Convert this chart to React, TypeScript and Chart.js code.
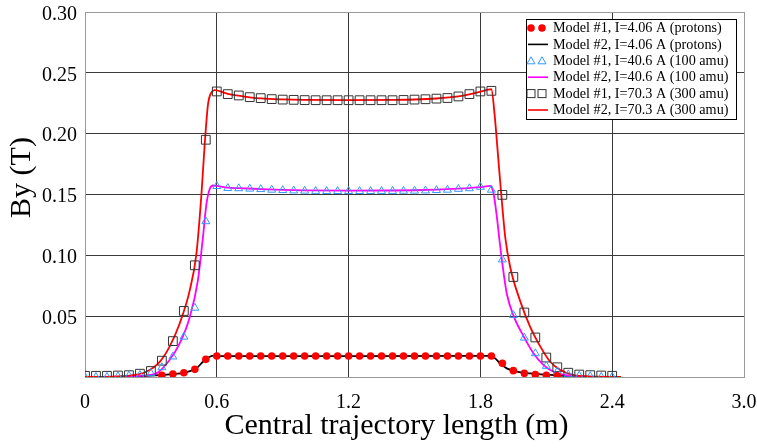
import React, { useEffect, useRef } from 'react';
import { Chart, registerables } from 'chart.js';

Chart.register(...registerables);

// ---------- data ----------
const markerX = [0, 0.05, 0.1, 0.15, 0.2, 0.25, 0.3, 0.35, 0.4, 0.45, 0.5, 0.55, 0.6, 0.65, 0.7, 0.75, 0.8, 0.85, 0.9, 0.95, 1.0, 1.05, 1.1, 1.15, 1.2, 1.25, 1.3, 1.35, 1.4, 1.45, 1.5, 1.55, 1.6, 1.65, 1.7, 1.75, 1.8, 1.85, 1.9, 1.95, 2.0, 2.05, 2.1, 2.15, 2.2, 2.25, 2.3, 2.35, 2.4];

const protonsModel1: (number | null)[] = [null, null, null, null, null, null, null, 0.0014, 0.0025, 0.0035, 0.0063, 0.0145, 0.0172, 0.0172, 0.0172, 0.0172, 0.0172, 0.0172, 0.0172, 0.0172, 0.0172, 0.0172, 0.0172, 0.0172, 0.0172, 0.0172, 0.0172, 0.0172, 0.0172, 0.0172, 0.0172, 0.0172, 0.0172, 0.0172, 0.0172, 0.0172, 0.0172, 0.0172, 0.0112, 0.0052, 0.003, 0.002, 0.0015, 0.001, null, null, null, null, null];

const amu100Model1 = [0, 0, 0, 0.0005, 0.001, 0.0015, 0.003, 0.0079, 0.0167, 0.033, 0.0568, 0.1279, 0.1568, 0.1552, 0.155, 0.1547, 0.1543, 0.1538, 0.1535, 0.1532, 0.153, 0.1528, 0.1527, 0.1527, 0.1527, 0.1527, 0.1527, 0.1528, 0.1528, 0.1529, 0.153, 0.1532, 0.1535, 0.1538, 0.1545, 0.155, 0.1562, 0.1538, 0.0965, 0.0508, 0.0322, 0.0194, 0.009, 0.0044, 0.002, 0.001, 0.0005, 0, 0];

const amu300Model1 = [0.001, 0.001, 0.001, 0.0012, 0.0015, 0.0027, 0.0049, 0.0134, 0.0295, 0.0543, 0.0918, 0.195, 0.2347, 0.2325, 0.2314, 0.23, 0.2292, 0.2284, 0.228, 0.2278, 0.2276, 0.2275, 0.2275, 0.2275, 0.2275, 0.2275, 0.2275, 0.2275, 0.2275, 0.2277, 0.228, 0.2283, 0.2288, 0.2293, 0.2306, 0.2325, 0.2347, 0.2352, 0.1497, 0.0822, 0.053, 0.0325, 0.016, 0.008, 0.0035, 0.002, 0.0015, 0.0012, 0.001];

const protonsModel2X = [0, 0.2, 0.28, 0.385, 0.46, 0.507, 0.537, 0.568, 0.59, 0.62, 1.2, 1.82, 1.845, 1.867, 1.89, 1.92, 1.966, 2.027, 2.1, 2.18, 2.26, 2.3];
const protonsModel2Y = [0, 0, 0.001, 0.0022, 0.0038, 0.0071, 0.0125, 0.0166, 0.0175, 0.0172, 0.0172, 0.0173, 0.0175, 0.0153, 0.0112, 0.0071, 0.0044, 0.003, 0.0019, 0.001, 0, 0];

const amu100Model2X = [0, 0.2, 0.27, 0.325, 0.385, 0.431, 0.4765, 0.514, 0.537, 0.553, 0.568, 0.583, 0.6, 0.65, 0.7, 0.8, 0.9, 1.0, 1.2, 1.4, 1.5, 1.6, 1.7, 1.75, 1.8, 1.845, 1.86, 1.875, 1.887, 1.898, 1.92, 1.953, 1.998, 2.042, 2.088, 2.133, 2.2, 2.3];
const amu100Model2Y = [0, 0.0005, 0.0012, 0.003, 0.014, 0.0276, 0.049, 0.0795, 0.115, 0.1424, 0.1547, 0.1574, 0.157, 0.1556, 0.1552, 0.1545, 0.1538, 0.1534, 0.1532, 0.1533, 0.1535, 0.154, 0.1548, 0.1553, 0.156, 0.1571, 0.1506, 0.1314, 0.1123, 0.0959, 0.0686, 0.0494, 0.033, 0.0194, 0.0098, 0.0043, 0.0012, 0];

const amu300Model2X = [0, 0.15, 0.22, 0.279, 0.34, 0.385, 0.431, 0.4765, 0.507, 0.53, 0.545, 0.56, 0.5755, 0.59, 0.6, 0.65, 0.7, 0.75, 0.8, 0.9, 1.0, 1.2, 1.4, 1.5, 1.6, 1.7, 1.75, 1.8, 1.835, 1.85, 1.865, 1.882, 1.895, 1.913, 1.936, 1.98, 2.027, 2.073, 2.118, 2.164, 2.225, 2.3, 2.44];
const amu300Model2Y = [0, 0.0005, 0.0015, 0.0043, 0.0125, 0.025, 0.044, 0.071, 0.101, 0.15, 0.1915, 0.224, 0.234, 0.2358, 0.2355, 0.2328, 0.2312, 0.2299, 0.229, 0.2282, 0.2278, 0.2276, 0.2278, 0.2281, 0.2289, 0.2306, 0.2323, 0.2345, 0.2362, 0.2365, 0.215, 0.178, 0.15, 0.115, 0.09, 0.063, 0.041, 0.025, 0.0125, 0.0057, 0.0015, 0.0005, 0];

const xTickValues = [0, 0.6, 1.2, 1.8, 2.4, 3.0];
const yTickValues = [0, 0.05, 0.1, 0.15, 0.2, 0.25, 0.3];

const legendLabels = [
  'Model #1, I=4.06 A (protons)',
  'Model #2, I=4.06 A (protons)',
  'Model #1, I=40.6 A (100 amu)',
  'Model #2, I=40.6 A (100 amu)',
  'Model #1, I=70.3 A (300 amu)',
  'Model #2, I=70.3 A (300 amu)',
];

const xTitle = 'Central trajectory length (m)';
const yTitle = 'By (T)';

// ---------- styles ----------
const RED = '#ff0000';
const MAGENTA = '#ff00ff';
const BLUE = '#3399ff';
const SQUARE = '#333333';
const FONT = '"Liberation Serif", "Times New Roman", serif';

const toPoints = (xs: number[], ys: (number | null)[]) =>
  xs.map((x, i) => ({ x, y: ys[i] })).filter((p) => p.y !== null && p.y !== undefined) as { x: number; y: number }[];

function drawLegendMarker(ctx: CanvasRenderingContext2D, kind: string, x: number, y: number) {
  ctx.save();
  if (kind === 'circle') {
    ctx.fillStyle = RED;
    ctx.beginPath();
    ctx.arc(x, y, 3.8, 0, Math.PI * 2);
    ctx.fill();
  } else if (kind === 'triangle') {
    ctx.strokeStyle = BLUE;
    ctx.lineWidth = 1;
    ctx.beginPath();
    ctx.moveTo(x, y - 4);
    ctx.lineTo(x + 4, y + 3);
    ctx.lineTo(x - 4, y + 3);
    ctx.closePath();
    ctx.stroke();
  } else if (kind === 'rect') {
    ctx.strokeStyle = SQUARE;
    ctx.lineWidth = 1;
    ctx.strokeRect(x - 4, y - 4, 8, 8);
  }
  ctx.restore();
}

const legendPlugin = {
  id: 'customLegend',
  afterDraw(chart: any) {
    const ctx: CanvasRenderingContext2D = chart.ctx;
    // axis titles
    ctx.save();
    ctx.fillStyle = '#000000';
    ctx.font = `30px ${FONT}`;
    ctx.textAlign = 'center';
    ctx.textBaseline = 'middle';
    ctx.fillText(xTitle, 396.5, 426.5);
    ctx.translate(22, 177.5);
    ctx.rotate(-Math.PI / 2);
    ctx.fillText(yTitle, 0, 0);
    ctx.restore();

    // legend
    const bx = 526.5, by = 19.5, bw = 210, bh = 100;
    ctx.save();
    ctx.fillStyle = '#ffffff';
    ctx.fillRect(bx, by, bw, bh);
    ctx.strokeStyle = '#000000';
    ctx.lineWidth = 1;
    ctx.strokeRect(bx, by, bw, bh);
    const kinds = [
      { m: 'circle' }, { l: '#000000' },
      { m: 'triangle' }, { l: MAGENTA },
      { m: 'rect' }, { l: RED },
    ] as any[];
    ctx.font = `14.2px ${FONT}`;
    ctx.textBaseline = 'middle';
    ctx.textAlign = 'left';
    legendLabels.forEach((label, i) => {
      const cy = 28 + i * 16.4;
      const k = kinds[i];
      if (k.m) {
        drawLegendMarker(ctx, k.m, 531, cy);
        drawLegendMarker(ctx, k.m, 542, cy);
      } else {
        ctx.strokeStyle = k.l;
        ctx.lineWidth = 1.6;
        ctx.beginPath();
        ctx.moveTo(528, cy);
        ctx.lineTo(548, cy);
        ctx.stroke();
      }
      ctx.fillStyle = '#000000';
      ctx.fillText(label, 553, cy + 0.5);
    });
    ctx.restore();
  },
};

const noPad = (scale: any) => {
  scale.paddingTop = 0;
  scale.paddingBottom = 0;
  scale.paddingLeft = 0;
  scale.paddingRight = 0;
};

export default function App() {
  const ref = useRef<HTMLCanvasElement>(null);
  useEffect(() => {
    if (!ref.current) return;
    const edgeColor = '#999999';
    const gridColor = '#3a3a3a';
    const chart = new Chart(ref.current, {
      type: 'scatter',
      data: {
        datasets: [
          {
            label: legendLabels[0],
            data: toPoints(markerX, protonsModel1),
            showLine: false,
            pointStyle: 'circle',
            pointRadius: 3.8,
            pointBackgroundColor: RED,
            pointBorderColor: RED,
            pointBorderWidth: 0,
            order: 0,
          },
          {
            label: legendLabels[1],
            data: toPoints(protonsModel2X, protonsModel2Y),
            showLine: true,
            borderColor: '#000000',
            borderWidth: 1.8,
            pointRadius: 0,
            cubicInterpolationMode: 'monotone',
            order: 5,
          },
          {
            label: legendLabels[2],
            data: toPoints(markerX, amu100Model1),
            showLine: false,
            pointStyle: 'triangle',
            pointRadius: 4.6,
            pointBackgroundColor: 'rgba(0,0,0,0)',
            pointBorderColor: BLUE,
            pointBorderWidth: 1,
            order: 1,
          },
          {
            label: legendLabels[3],
            data: toPoints(amu100Model2X, amu100Model2Y),
            showLine: true,
            borderColor: MAGENTA,
            borderWidth: 1.8,
            pointRadius: 0,
            cubicInterpolationMode: 'monotone',
            order: 4,
          },
          {
            label: legendLabels[4],
            data: toPoints(markerX, amu300Model1),
            showLine: false,
            pointStyle: 'rect',
            pointRadius: 6.2,
            pointBackgroundColor: 'rgba(0,0,0,0)',
            pointBorderColor: SQUARE,
            pointBorderWidth: 1,
            order: 2,
          },
          {
            label: legendLabels[5],
            data: toPoints(amu300Model2X, amu300Model2Y),
            showLine: true,
            borderColor: RED,
            borderWidth: 1.8,
            pointRadius: 0,
            cubicInterpolationMode: 'monotone',
            order: 3,
          },
        ],
      },
      options: {
        responsive: false,
        animation: false,
        events: [],
        layout: { padding: { left: 0, top: 12, right: 13, bottom: 3 } },
        plugins: {
          legend: { display: false },
          tooltip: { enabled: false },
        },
        scales: {
          x: {
            type: 'linear',
            min: 0,
            max: 3,
            afterBuildTicks: (scale: any) => {
              scale.ticks = xTickValues.map((v) => ({ value: v }));
            },
            afterFit: (scale: any) => {
              scale.height = 68;
              noPad(scale);
            },
            grid: {
              drawTicks: false,
              color: (c: any) => (c.tick && (c.tick.value === 0 || c.tick.value === 3) ? edgeColor : gridColor),
              lineWidth: 1,
            },
            border: { display: true, color: edgeColor },
            ticks: {
              padding: 14,
              maxRotation: 0,
              autoSkip: false,
              color: '#000000',
              font: { family: FONT, size: 20, lineHeight: 1.2 },
              callback: (v: any) => (Number(v) === 0 ? '0' : Number(v).toFixed(1)),
            },
            title: { display: false },
          },
          y: {
            type: 'linear',
            min: 0,
            max: 0.3,
            afterBuildTicks: (scale: any) => {
              scale.ticks = yTickValues.map((v) => ({ value: v }));
            },
            afterFit: (scale: any) => {
              scale.width = 85;
              noPad(scale);
            },
            grid: {
              drawTicks: false,
              color: (c: any) => (c.tick && (c.tick.value === 0 || Math.abs(c.tick.value - 0.3) < 1e-9) ? edgeColor : gridColor),
              lineWidth: 1,
            },
            border: { display: true, color: edgeColor },
            ticks: {
              padding: 8,
              labelOffset: 2.5,
              autoSkip: false,
              color: '#000000',
              font: { family: FONT, size: 20, lineHeight: 1.2 },
              callback: (v: any) => (Number(v) === 0 ? '' : Number(v).toFixed(2)),
            },
            title: { display: false },
          },
        },
      },
      plugins: [legendPlugin],
    } as any);
    return () => chart.destroy();
  }, []);

  return (
    <div style={{ position: 'absolute', left: 0, top: 0, width: 757, height: 448, background: '#ffffff' }}>
      <canvas ref={ref} width={757} height={448} style={{ display: 'block', width: 757, height: 448 }} />
    </div>
  );
}
